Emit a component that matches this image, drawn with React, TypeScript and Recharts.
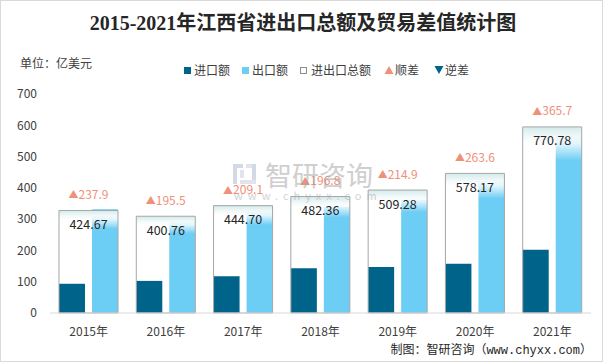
import React from 'react';
import { BarChart, Bar, XAxis, YAxis, LabelList } from 'recharts';

const years = ['2015年', '2016年', '2017年', '2018年', '2019年', '2020年', '2021年'];
const importValues = [93.4, 102.6, 117.8, 142.8, 147.2, 157.3, 202.5];
const exportValues = [331.3, 298.1, 326.9, 339.6, 362.1, 420.9, 568.2];
const totalValues = [424.67, 400.76, 444.7, 482.36, 509.28, 578.17, 770.78];
const surplusValues = [237.9, 195.5, 209.1, 196.8, 214.9, 263.6, 365.7];
const yTicks = [0, 100, 200, 300, 400, 500, 600, 700];

const data = years.map((year, i) => ({
  year,
  imp: importValues[i],
  exp: exportValues[i],
  total: totalValues[i],
  surplus: surplusValues[i],
}));

const FONT = '"Noto Sans CJK SC", "Noto Sans", sans-serif';
const IMPORT_COLOR = '#00638a';
const EXPORT_COLOR = '#6dcef5';
const SURPLUS_COLOR = '#f0907a';

const TotalLabel = (props: any) => {
  const { x, y, width, value } = props;
  return (
    <text
      x={x + width / 2}
      y={y + 13}
      textAnchor="middle"
      dominantBaseline="central"
      fontSize={12.5}
      fontFamily={FONT}
      fill="#262626"
    >
      {Number(value).toFixed(2)}
    </text>
  );
};

const SurplusLabel = (props: any) => {
  const { x, y, width, value } = props;
  return (
    <text
      x={x + width / 2}
      y={y - 17}
      textAnchor="middle"
      dominantBaseline="central"
      fontSize={12}
      fontFamily={FONT}
      fill={SURPLUS_COLOR}
    >
      <tspan fontSize={10}>▲</tspan>
      {Number(value).toFixed(1)}
    </text>
  );
};

const legendText: React.CSSProperties = {
  position: 'absolute',
  top: 62,
  fontSize: 12,
  lineHeight: '16px',
  color: '#404040',
  fontFamily: FONT,
  whiteSpace: 'nowrap',
};

export default function App() {
  return (
    <div
      style={{
        position: 'absolute',
        left: 0,
        top: 0,
        width: 606,
        height: 363,
        background: '#ffffff',
        overflow: 'hidden',
      }}
    >
      <BarChart
        width={606}
        height={363}
        data={data}
        margin={{ top: 94, right: 15, left: 0, bottom: 20 }}
        barGap={7}
      >
        <defs>
          <linearGradient id="totalGrad" x1="0" y1="0" x2="0" y2="1">
            <stop offset="0%" stopColor="#d3ebeb" stopOpacity={1} />
            <stop offset="5%" stopColor="#f1f8f8" stopOpacity={1} />
            <stop offset="9%" stopColor="#ffffff" stopOpacity={0.8} />
            <stop offset="18%" stopColor="#ffffff" stopOpacity={0} />
            <stop offset="100%" stopColor="#ffffff" stopOpacity={0} />
          </linearGradient>
        </defs>
        <XAxis
          xAxisId="a"
          dataKey="year"
          tickLine={false}
          axisLine={{ stroke: '#d9d9d9' }}
          tick={{ fontSize: 12, fill: '#404040', fontFamily: FONT }}
          tickMargin={8}
          height={30}
          interval={0}
        />
        <XAxis xAxisId="b" dataKey="year" hide />
        <YAxis
          yAxisId="l"
          domain={[0, 700]}
          ticks={yTicks}
          width={50}
          tickLine={false}
          axisLine={false}
          tickMargin={7}
          tick={{ fontSize: 12, fill: '#404040', fontFamily: FONT }}
          interval={0}
        />
        <YAxis yAxisId="r" orientation="right" hide domain={[0, 907]} />
        <Bar
          xAxisId="a"
          yAxisId="l"
          dataKey="imp"
          name="进口额"
          fill={IMPORT_COLOR}
          barSize={26}
          isAnimationActive={false}
        />
        <Bar
          xAxisId="a"
          yAxisId="l"
          dataKey="exp"
          name="出口额"
          fill={EXPORT_COLOR}
          barSize={26}
          isAnimationActive={false}
        />
        <Bar
          xAxisId="b"
          yAxisId="r"
          dataKey="total"
          name="进出口总额"
          fill="url(#totalGrad)"
          stroke="#a6a6a6"
          strokeWidth={1}
          barSize={59}
          isAnimationActive={false}
        >
          <LabelList dataKey="total" content={TotalLabel} />
          <LabelList dataKey="surplus" content={SurplusLabel} />
        </Bar>
      </BarChart>

      {/* Title */}
      <div
        style={{
          position: 'absolute',
          left: 0,
          top: 10,
          width: 606,
          textAlign: 'center',
          fontSize: 20,
          lineHeight: '26px',
          fontWeight: 'bold',
          color: '#262626',
          fontFamily: '"Liberation Serif", "Noto Sans CJK SC", serif',
          whiteSpace: 'nowrap',
        }}
      >
        2015-2021年江西省进出口总额及贸易差值统计图
      </div>

      {/* Unit */}
      <div style={{ ...legendText, left: 20, top: 55 }}>单位：亿美元</div>

      {/* Legend */}
      <div style={{ position: 'absolute', left: 184, top: 67, width: 7, height: 7, background: IMPORT_COLOR }} />
      <div style={{ ...legendText, left: 194 }}>进口额</div>
      <div style={{ position: 'absolute', left: 242, top: 67, width: 7, height: 7, background: EXPORT_COLOR }} />
      <div style={{ ...legendText, left: 252 }}>出口额</div>
      <div
        style={{
          position: 'absolute',
          left: 300,
          top: 67,
          width: 5,
          height: 5,
          border: '1px solid #8c8c8c',
          background: '#ffffff',
        }}
      />
      <div style={{ ...legendText, left: 311 }}>进出口总额</div>
      <svg style={{ position: 'absolute', left: 384, top: 65 }} width={10} height={10}>
        <polygon points="5,1 9.5,9 0.5,9" fill={SURPLUS_COLOR} />
      </svg>
      <div style={{ ...legendText, left: 395 }}>顺差</div>
      <svg style={{ position: 'absolute', left: 434, top: 65 }} width={10} height={10}>
        <polygon points="0.5,1 9.5,1 5,9" fill={IMPORT_COLOR} />
      </svg>
      <div style={{ ...legendText, left: 445 }}>逆差</div>

      {/* Watermark */}
      <div style={{ position: 'absolute', left: 232, top: 156, opacity: 0.5, pointerEvents: 'none' }}>
        <svg width={180} height={50}>
          <rect x={1} y={8} width={10} height={4} fill="#a9b6cf" />
          <rect x={1} y={8} width={4} height={20} fill="#a9b6cf" />
          <rect x={8} y={14} width={4} height={8} fill="#c4ccd9" />
          <rect x={14} y={8} width={10} height={4} fill="#c4ccd9" />
          <rect x={20} y={8} width={4} height={20} fill="#a9b6cf" />
          <rect x={8} y={24} width={16} height={4} fill="#c4ccd9" />
          <text x={33} y={18} dominantBaseline="central" fontSize={27} fill="#a0a0a0" fontFamily={FONT}>
            智研咨询
          </text>
          <text x={2} y={39} dominantBaseline="central" fontSize={11} fill="#a8a8a8" fontFamily={FONT} letterSpacing={5}>
            www.chyxx.com
          </text>
        </svg>
      </div>

      {/* Source */}
      <div
        style={{
          position: 'absolute',
          right: 14,
          top: 343,
          fontSize: 12,
          lineHeight: '16px',
          color: '#262626',
          fontFamily: '"Liberation Mono", "Noto Sans CJK SC", monospace',
          whiteSpace: 'nowrap',
        }}
      >
        制图：智研咨询（www.chyxx.com）
      </div>

      {/* Frame */}
      <div
        style={{
          position: 'absolute',
          left: 0,
          top: 0,
          width: 603,
          height: 362,
          boxSizing: 'border-box',
          border: '1px solid #d9d9d9',
          pointerEvents: 'none',
        }}
      />
    </div>
  );
}
